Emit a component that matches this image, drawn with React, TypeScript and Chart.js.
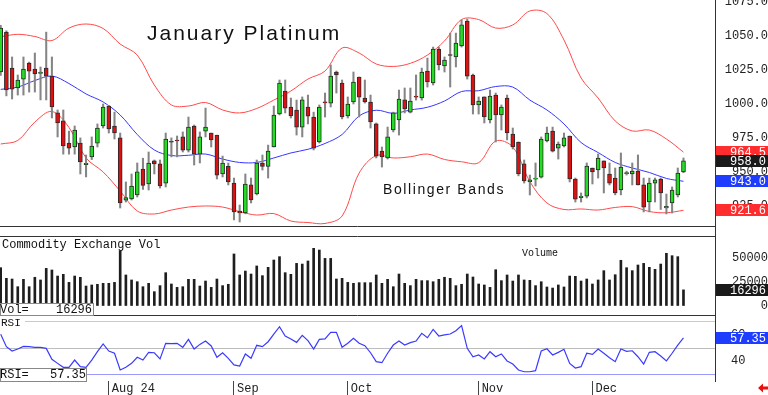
import React, { useEffect, useRef } from 'react';
import { Chart, registerables } from 'chart.js';

Chart.register(...registerables);

// ---------- data ----------
const opens = [
  1023.6, 1053, 1026.5, 1011.8, 1018.4, 1030.2, 1025.8, 1022.5, 1026.5, 1020.6,
  993.4, 987.5, 971.2, 968.3, 971.2, 955.3, 960.9, 971.2, 983.8, 998.5,
  983.8, 975, 929, 930, 932.9, 952, 941, 958, 955.8, 941.7,
  972.5, 973.3, 975.7, 966, 983.8, 963, 980, 978.6, 977, 948.4,
  954, 941.7, 921, 919.6, 940.3, 933.6, 956.5, 954, 968.3, 992.6,
  1009.6, 997.8, 995.6, 983, 997.8, 990.4, 972, 1001.3, 1000.7, 1023.6,
  1015.5, 991.2, 1001.5, 1019.9, 1004.4, 1001.5, 985.3, 965.3, 960.2, 980.8,
  988.2, 1003, 994, 1005.7, 1004.4, 1024.3, 1015.5, 1040.5, 1028, 1036.5,
  1034.7, 1042.8, 1061.2, 1021.4, 999.3, 1005.2, 988.2, 1006.6, 991.9, 1004.4,
  977.9, 972, 955.8, 942.5, 944.6, 946, 972.7, 980, 967.5, 969,
  976.4, 944.7, 931, 932.1, 952.8, 951.3, 958, 948.4, 945.4, 936.6,
  948.7, 948.4, 950.6, 940.3, 927.7, 941.7, 944.7, 923.3, 927, 932.9,
  950,
];
const highs = [
  1058, 1054, 1034.7, 1021.4, 1034.7, 1030.9, 1037.6, 1027.3, 1053, 1034.7,
  995.6, 995.6, 980, 983.8, 975, 962.4, 975.7, 985.3, 1000, 999,
  994, 978.6, 942.5, 948.4, 956.5, 960, 964.6, 958.7, 958.7, 978.6,
  975, 976.4, 979.4, 990.4, 984.5, 979.4, 997, 978.6, 977, 961.6,
  956.5, 945.4, 925.5, 948.4, 945.4, 958.7, 962.4, 969.7, 998.5, 1017.7,
  1017.7, 1004.4, 1002.9, 1005.2, 1006.6, 994, 999.3, 1008.1, 1028.8, 1024.3,
  1017.7, 1005.2, 1023.6, 1019.9, 1017.7, 1006.6, 986, 968.3, 983, 994,
  1010.3, 1011.8, 1011.8, 1021.4, 1026.5, 1033.9, 1042, 1042, 1034.7, 1052.3,
  1052.3, 1062, 1062.7, 1022.1, 1005.2, 1005.2, 1010.3, 1008.1, 999.3, 1006.6,
  982.3, 972, 958.7, 947.6, 956.5, 975.7, 983, 983, 972, 978.6,
  976.4, 945.4, 934.4, 956.5, 952.8, 963.1, 958, 956.5, 952.8, 963.9,
  950.5, 956.5, 962.4, 945.4, 945.4, 945.4, 945.4, 933.6, 938.8, 952.8,
  960.2,
];
const lows = [
  1021, 1006, 1003.7, 1006.6, 1006.6, 1008.8, 1008.8, 1003, 1003, 989.7,
  975.7, 963, 963, 963, 948.4, 946.2, 959, 968.3, 982.3, 978.6,
  974.2, 923.3, 927.7, 929.2, 931.4, 937, 936.6, 948.4, 938, 938.8,
  961, 961, 964.6, 964.6, 955, 956.5, 975.7, 968.3, 944.7, 946.2,
  940.3, 914.5, 913, 919, 927, 932.9, 951.3, 945.4, 968.3, 991.9,
  993.4, 989.7, 977.1, 975.7, 985.3, 966.1, 971.2, 990.4, 997.8, 1008.1,
  989, 989.7, 1000, 990.4, 1000.7, 982.3, 960.2, 953.5, 959.4, 979.4,
  977.1, 993.4, 993.4, 1002.9, 1002.9, 1012.5, 1014, 1025.1, 1023.6, 1012.5,
  1027.3, 1042, 1018.4, 992.6, 992.6, 986, 986, 972, 980.8, 973.5,
  966.8, 947, 941.7, 932.9, 939.5, 945.4, 972, 964.6, 959.4, 968.3,
  942.5, 927.7, 927.7, 930.7, 941, 945.4, 934.4, 940.3, 933, 933,
  947.6, 940.3, 940.3, 920.4, 920.4, 927.7, 922.2, 918.9, 919.6, 931.4,
  949.3,
];
const closes = [
  1056, 1010.3, 1011, 1017.7, 1025.8, 1024.3, 1022.1, 1023.5, 1020.6, 997.8,
  986, 969, 967.5, 980.8, 957.2, 956.3, 969, 982.3, 997.8, 981.6,
  978.6, 927, 931, 939.5, 949.9, 940, 956.5, 955.8, 939.5, 974.2,
  971.8, 972.7, 966, 983, 963, 975.7, 983, 973.5, 947.6, 956.5,
  942.5, 920.4, 919.6, 941, 929.2, 956.5, 954, 965.3, 991.9, 1015.5,
  997, 991.2, 983, 1003, 991, 967.5, 997.8, 1000.8, 1020.6, 1021.4,
  990.4, 1000, 1016.2, 1005, 1001.5, 986.7, 961.6, 960.9, 975.7, 993.4,
  1003.7, 996.3, 1002.2, 1005.1, 1023.6, 1016.2, 1040.5, 1028.8, 1032.4, 1035.8,
  1045, 1058.3, 1020.6, 999.3, 1002.2, 990.4, 1005.9, 991.9, 997.8, 978.6,
  968.3, 948.4, 943.2, 944, 945.4, 974.2, 978.6, 965.3, 970.5, 975,
  944.7, 929.9, 932, 954.3, 949.9, 960.2, 952.8, 941.7, 934.4, 953.5,
  949.3, 950.6, 940.3, 924, 941.7, 944, 934.4, 924.5, 936.6, 949,
  958.0,
];
const volumes = [
  39400, 28300, 27600, 19600, 27300, 19600, 29400, 26600, 38700, 37000,
  30700, 32500, 24100, 30700, 29400, 20300, 21400, 22100, 23100, 23100,
  24100, 57100, 31800, 26600, 24800, 19600, 23100, 14400, 20700, 34200,
  22400, 18900, 19600, 27300, 27300, 20300, 25500, 18900, 27600, 20700,
  22100, 53700, 31800, 35900, 32800, 41200, 31100, 39800, 47400, 50900,
  34200, 32500, 43900, 43200, 46400, 59600, 57800, 49100, 49100, 27600,
  28300, 24100, 23100, 23800, 23800, 23800, 31800, 23100, 27300, 19600,
  32800, 23100, 20700, 27300, 25900, 25900, 24800, 27300, 29400, 28300,
  20700, 22100, 32800, 29700, 22400, 21400, 18900, 37300, 25900, 31800,
  25500, 31800, 26600, 26200, 20700, 24800, 19300, 18200, 21400, 19300,
  30700, 30400, 25500, 27600, 22400, 26600, 36300, 26600, 32100, 47100,
  39400, 36300, 42200, 43900, 39800, 37700, 43200, 54400, 51900, 50900,
  16296,
];
const rsiValues = [
  60.1, 50.8, 47.5, 49.0, 51.0, 50.8, 50.3, 50.3, 49.5, 41.3,
  38.2, 35.2, 35.2, 40.7, 35.7, 35.2, 40.7, 47.0, 52.8, 47.5,
  45.8, 33.2, 35.2, 38.2, 42.8, 40.7, 46.5, 46.2, 41.5, 53.3,
  53.0, 53.3, 50.3, 56.3, 49.0, 52.5, 55.0, 51.3, 42.8, 46.2,
  42.0, 37.0, 36.2, 45.3, 42.0, 51.8, 50.8, 54.5, 60.3, 65.8,
  58.8, 56.6, 54.0, 59.3, 55.3, 49.0, 56.3, 56.6, 61.6, 61.6,
  50.3, 53.3, 57.1, 53.3, 51.5, 46.2, 39.5, 38.7, 45.8, 52.0,
  55.0, 52.0, 53.8, 55.0, 60.8, 57.5, 63.8, 58.8, 59.6, 60.3,
  62.8, 66.6, 49.5, 43.2, 44.5, 41.5, 47.0, 43.2, 45.3, 40.0,
  37.7, 33.2, 31.9, 31.9, 32.7, 47.5, 49.2, 44.5, 46.5, 48.8,
  38.2, 34.7, 35.7, 45.8, 45.0, 49.0, 45.8, 42.5, 39.5, 49.0,
  47.3, 47.7, 43.2, 37.7, 46.5, 47.0, 43.8, 40.0, 45.8, 52.0,
  57.35,
];
const bandIdx = [
  0, 3, 6, 9, 12, 15, 18, 21, 24, 27, 30, 33, 36, 39, 42, 45, 48, 51, 54, 57,
  60, 63, 66, 69, 72, 75, 78, 81, 84, 87, 90, 93, 96, 99, 102, 105, 108, 111, 114, 117, 120,
];
const upperBand = [
  1049.6, 1051.4, 1049.8, 1046.8, 1056.0, 1059.0, 1055.7, 1044.2, 1036.1, 1014.0,
  999.3, 998.5, 1001.1, 995.6, 993.4, 996.7, 1002.9, 1009.6, 1018.4, 1024.3,
  1041.3, 1037.6, 1029.5, 1027.7, 1030.0, 1036.1, 1046.5, 1062.3, 1062.3, 1056.0,
  1058.3, 1068.6, 1066.7, 1047.2, 1019.2, 1004.4, 987.5, 980.1, 980.8, 974.2,
  964.5,
];
const middleBand = [
  1010.8, 1012.5, 1017.3, 1020.6, 1015.1, 1007.4, 1001.5, 991.9, 977.5, 966.1,
  962.0, 962.2, 963.1, 959.4, 956.9, 956.9, 960.2, 963.9, 966.6, 970.9,
  977.5, 991.2, 995.4, 993.1, 995.6, 997.6, 1002.2, 1009.2, 1009.8, 1012.9,
  1012.5, 1002.9, 995.6, 985.3, 971.6, 964.2, 956.9, 952.8, 949.5, 945.1,
  943.0,
];
const lowerBand = [
  970.5, 973.1, 986.7, 994.5, 982.7, 960.2, 949.9, 935.8, 921.1, 918.9,
  921.8, 924.0, 924.8, 924.0, 920.6, 918.1, 919.2, 913.7, 912.6, 911.9,
  917.4, 949.1, 962.0, 960.2, 961.1, 963.1, 959.1, 957.4, 956.7, 972.7,
  968.3, 942.8, 927.0, 922.2, 922.6, 921.8, 923.7, 924.3, 920.7, 919.8,
  921.6,
];
const priceTicks = [925, 950, 975, 1000, 1025, 1050, 1075];
const volumeTicks = [0, 25000, 50000];
const rsiTicks = [40, 60];
const rsiLevels = [70, 50, 30];
const monthIdx = [19, 41, 61, 84, 104];
const monthLabels = ['Aug 24', 'Sep', 'Oct', 'Nov', 'Dec'];
const titleText = 'January Platinum';

// ---------- layout / style ----------
const X_MIN = -0.123;
const X_MAX = 125.54;
const AXIS_W = 53;
const MONO = '"Liberation Mono", "DejaVu Sans Mono", monospace';
const SANS = '"Liberation Sans", Arial, sans-serif';

const baseOptions = {
  responsive: false,
  animation: false as const,
  devicePixelRatio: 1,
  events: [] as any[],
  layout: { padding: 0 },
  plugins: { legend: { display: false }, tooltip: { enabled: false } },
};

function hiddenX(): any {
  return { type: 'linear', min: X_MIN, max: X_MAX, offset: false, display: false, grid: { offset: false } };
}

function rightY(min: number, max: number, tickVals: number[], fmt: (v: number) => string, crossAlign: string, padding: number): any {
  return {
    type: 'linear',
    position: 'right',
    min,
    max,
    beginAtZero: false,
    afterBuildTicks: (s: any) => {
      s.ticks = tickVals.map((v) => ({ value: v }));
    },
    afterFit: (s: any) => {
      s.width = AXIS_W;
      s.paddingTop = 0;
      s.paddingBottom = 0;
    },
    grid: { display: false, drawTicks: false },
    border: { display: true, color: '#333', width: 1 },
    ticks: {
      autoSkip: false,
      padding,
      crossAlign,
      color: '#222',
      font: { family: MONO, size: 12 },
      callback: (v: any) => fmt(Number(v)),
    },
  };
}

function valueBox(ctx: CanvasRenderingContext2D, y: number, text: string, bg: string) {
  const yy = Math.round(y);
  ctx.fillStyle = bg;
  ctx.fillRect(716, yy - 6, 52, 12);
  ctx.fillStyle = '#fff';
  ctx.font = `12px ${MONO}`;
  ctx.textAlign = 'right';
  ctx.textBaseline = 'middle';
  ctx.fillText(text, 766, yy + 0.5);
}

function setSpacing(ctx: any, v: string) {
  if ('letterSpacing' in ctx) ctx.letterSpacing = v;
}

const pricePlugin = {
  id: 'priceDecor',
  afterDraw(chart: any) {
    const { ctx, chartArea, scales } = chart;
    const y = scales.y;
    ctx.save();
    ctx.strokeStyle = '#333';
    ctx.lineWidth = 1;
    ctx.beginPath();
    ctx.moveTo(0, 226.5);
    ctx.lineTo(chartArea.right, 226.5);
    ctx.stroke();

    ctx.fillStyle = '#111';
    ctx.textAlign = 'left';
    ctx.textBaseline = 'alphabetic';
    ctx.font = `21px ${SANS}`;
    setSpacing(ctx, '2px');
    ctx.fillText(titleText, 147, 40);
    ctx.font = `14px ${SANS}`;
    setSpacing(ctx, '1.6px');
    ctx.fillText('Bollinger Bands', 383, 193.5);
    setSpacing(ctx, '0px');

    const last = closes.length - 1;
    valueBox(ctx, y.getPixelForValue(upperBand[upperBand.length - 1]), upperBand[upperBand.length - 1].toFixed(1), '#ff2d2d');
    valueBox(ctx, y.getPixelForValue(closes[last]), closes[last].toFixed(1), '#1a1a1a');
    valueBox(ctx, y.getPixelForValue(middleBand[middleBand.length - 1]), middleBand[middleBand.length - 1].toFixed(1), '#1f3dff');
    valueBox(ctx, y.getPixelForValue(lowerBand[lowerBand.length - 1]), lowerBand[lowerBand.length - 1].toFixed(1), '#ff2d2d');
    ctx.restore();
  },
};

const volumePlugin = {
  id: 'volDecor',
  afterDraw(chart: any) {
    const { ctx, chartArea, scales } = chart;
    ctx.save();
    ctx.strokeStyle = '#333';
    ctx.lineWidth = 1;
    ctx.beginPath();
    ctx.moveTo(0, 0.5);
    ctx.lineTo(chartArea.right, 0.5);
    ctx.moveTo(0, 79.5);
    ctx.lineTo(chartArea.right, 79.5);
    ctx.stroke();

    ctx.fillStyle = '#111';
    ctx.textAlign = 'left';
    ctx.textBaseline = 'middle';
    ctx.font = `12px ${MONO}`;
    ctx.fillText('Commodity Exchange Vol', 2, 8.5);
    ctx.font = `10px ${MONO}`;
    ctx.fillText('Volume', 522, 17);

    ctx.fillStyle = '#fff';
    ctx.fillRect(0, 67, 94, 12);
    ctx.strokeStyle = '#888';
    ctx.strokeRect(0.5, 67.5, 93, 12);
    ctx.fillStyle = '#111';
    ctx.font = `12px ${MONO}`;
    ctx.textAlign = 'left';
    ctx.fillText('Vol=', 0, 73.5);
    const lastV = volumes[volumes.length - 1];
    ctx.textAlign = 'right';
    ctx.fillText(String(lastV), 92, 73.5);

    valueBox(ctx, scales.y.getPixelForValue(lastV), String(lastV), '#1a1a1a');
    ctx.restore();
  },
};

const rsiPlugin = {
  id: 'rsiDecor',
  beforeDatasetsDraw(chart: any) {
    const { ctx, chartArea, scales } = chart;
    const y = scales.y;
    const starts = [25, 0, 87];
    const colors = ['#ffb3b3', '#bdbdbd', '#9a9aff'];
    ctx.save();
    ctx.lineWidth = 1;
    rsiLevels.forEach((lv, i) => {
      const py = Math.round(y.getPixelForValue(lv)) + 0.5;
      ctx.strokeStyle = colors[i];
      ctx.beginPath();
      ctx.moveTo(starts[i], py);
      ctx.lineTo(chartArea.right, py);
      ctx.stroke();
    });
    ctx.restore();
  },
  afterDraw(chart: any) {
    const { ctx, scales } = chart;
    ctx.save();
    ctx.fillStyle = '#111';
    ctx.textAlign = 'left';
    ctx.textBaseline = 'middle';
    ctx.font = `11px ${MONO}`;
    ctx.fillText('RSI', 1, 7.5);

    ctx.fillStyle = '#fff';
    ctx.fillRect(0, 52, 87, 13);
    ctx.strokeStyle = '#888';
    ctx.strokeRect(0.5, 52.5, 86, 13);
    ctx.fillStyle = '#111';
    ctx.font = `12px ${MONO}`;
    ctx.fillText('RSI=', 0, 58.5);
    const lastR = rsiValues[rsiValues.length - 1];
    ctx.textAlign = 'right';
    ctx.fillText(lastR.toFixed(2), 86, 58.5);

    valueBox(ctx, scales.y.getPixelForValue(lastR), lastR.toFixed(2), '#1f3dff');

    // small red arrow (bottom right)
    ctx.fillStyle = '#e81010';
    ctx.beginPath();
    ctx.moveTo(758, 72);
    ctx.lineTo(763, 67.5);
    ctx.lineTo(763, 70.5);
    ctx.lineTo(768, 70.5);
    ctx.lineTo(768, 73.5);
    ctx.lineTo(763, 73.5);
    ctx.lineTo(763, 76.5);
    ctx.closePath();
    ctx.fill();
    ctx.restore();
  },
};

function priceConfig(): any {
  const up = (i: number) => closes[i] >= opens[i];
  return {
    type: 'bar',
    data: {
      datasets: [
        { type: 'line', data: bandIdx.map((x, i) => ({ x, y: upperBand[i] })), borderColor: '#ff4a4a', borderWidth: 1, pointRadius: 0, tension: 0.35, order: 5 },
        { type: 'line', data: bandIdx.map((x, i) => ({ x, y: middleBand[i] })), borderColor: '#3636ff', borderWidth: 1, pointRadius: 0, tension: 0.35, order: 5 },
        { type: 'line', data: bandIdx.map((x, i) => ({ x, y: lowerBand[i] })), borderColor: '#ff4a4a', borderWidth: 1, pointRadius: 0, tension: 0.35, order: 5 },
        {
          type: 'bar',
          data: opens.map((_, i) => ({ x: i, y: [lows[i], highs[i]] })),
          backgroundColor: '#858585',
          barThickness: 1.4,
          grouped: false,
          order: 3,
        },
        {
          type: 'bar',
          data: opens.map((o, i) => ({ x: i, y: [o, closes[i]] })),
          backgroundColor: opens.map((_, i) => (up(i) ? '#22dd22' : '#dd1111')),
          borderColor: '#2a2a2a',
          borderWidth: 1,
          borderSkipped: false,
          barThickness: 4,
          minBarLength: 1,
          grouped: false,
          order: 2,
        },
      ],
    },
    options: {
      ...baseOptions,
      scales: {
        x: hiddenX(),
        y: rightY(909.29, 1076.7, priceTicks, (v) => v.toFixed(1), 'far', 7.8),
      },
    },
    plugins: [pricePlugin],
  };
}

function volumeConfig(): any {
  return {
    type: 'bar',
    data: {
      datasets: [
        {
          type: 'bar',
          data: volumes.map((v, i) => ({ x: i, y: v })),
          backgroundColor: '#1e1e1e',
          barThickness: 2,
          grouped: false,
        },
      ],
    },
    options: {
      ...baseOptions,
      scales: {
        x: hiddenX(),
        y: rightY(-10941, 72419, volumeTicks, (v) => String(Math.round(v)), 'far', 15),
      },
    },
    plugins: [volumePlugin],
  };
}

function rsiConfig(): any {
  return {
    type: 'line',
    data: {
      datasets: [
        {
          type: 'line',
          data: rsiValues.map((v, i) => ({ x: i, y: v })),
          borderColor: '#3a3aff',
          borderWidth: 1.2,
          pointRadius: 0,
          tension: 0,
        },
      ],
    },
    options: {
      ...baseOptions,
      scales: {
        x: {
          type: 'linear',
          position: 'bottom',
          min: X_MIN,
          max: X_MAX,
          offset: false,
          afterBuildTicks: (s: any) => {
            s.ticks = monthIdx.map((v) => ({ value: v }));
          },
          afterFit: (s: any) => {
            s.height = 14;
            s.paddingLeft = 0;
            s.paddingRight = 0;
          },
          grid: { display: true, offset: false, drawOnChartArea: false, drawTicks: true, tickLength: 14, color: '#444', lineWidth: 1 },
          border: { display: false },
          ticks: {
            align: 'start',
            labelOffset: 3,
            padding: -13,
            maxRotation: 0,
            autoSkip: false,
            color: '#222',
            font: { family: MONO, size: 12 },
            callback: (_v: any, i: number) => monthLabels[i],
          },
        },
        y: rightY(24.92, 73.87, rsiTicks, (v) => String(Math.round(v)), 'near', 16),
      },
    },
    plugins: [rsiPlugin],
  };
}

export default function App() {
  const priceRef = useRef<HTMLCanvasElement>(null);
  const volRef = useRef<HTMLCanvasElement>(null);
  const rsiRef = useRef<HTMLCanvasElement>(null);

  useEffect(() => {
    const charts: Chart[] = [];
    if (priceRef.current) charts.push(new Chart(priceRef.current, priceConfig()));
    if (volRef.current) charts.push(new Chart(volRef.current, volumeConfig()));
    if (rsiRef.current) charts.push(new Chart(rsiRef.current, rsiConfig()));
    return () => charts.forEach((c) => c.destroy());
  }, []);

  return (
    <div style={{ position: 'fixed', left: 0, top: 0, width: 768, height: 395, background: '#fff', overflow: 'hidden' }}>
      <canvas ref={priceRef} width={768} height={227} style={{ position: 'absolute', left: 0, top: 0, display: 'block' }} />
      <canvas ref={volRef} width={768} height={80} style={{ position: 'absolute', left: 0, top: 236, display: 'block' }} />
      <canvas ref={rsiRef} width={768} height={79} style={{ position: 'absolute', left: 0, top: 316, display: 'block' }} />
      <div style={{ position: 'absolute', left: 715, top: 227, width: 1, height: 9, background: '#333' }} />
    </div>
  );
}
